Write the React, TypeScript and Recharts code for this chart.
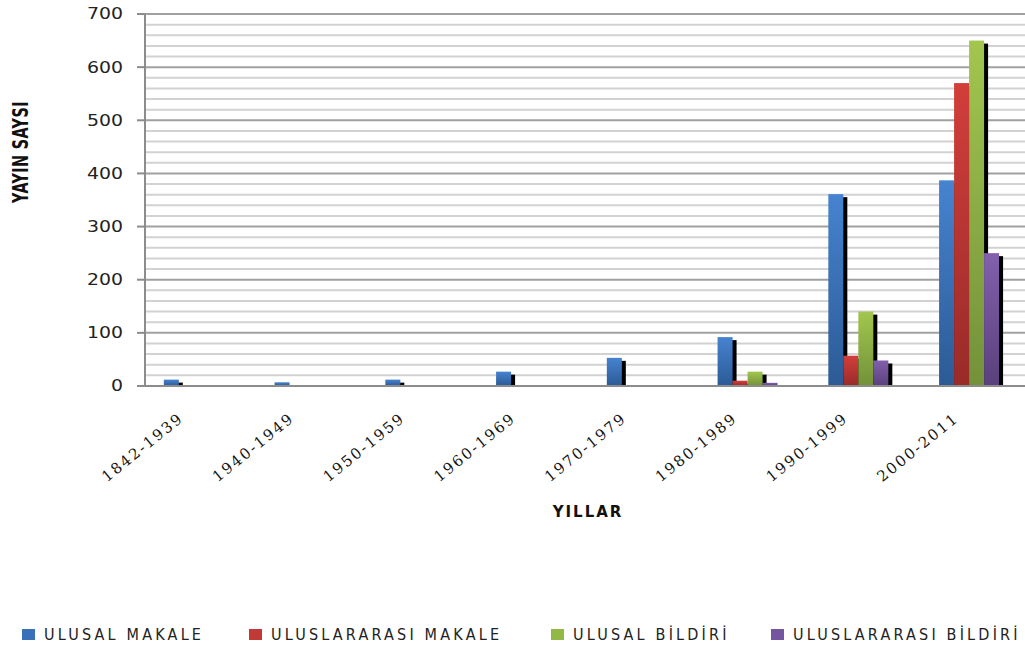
import React from 'react';
import {
  BarChart,
  Bar,
  XAxis,
  YAxis,
  CartesianGrid,
  Label,
} from 'recharts';

// categories (decades)
const categories = [
  '1842-1939',
  '1940-1949',
  '1950-1959',
  '1960-1969',
  '1970-1979',
  '1980-1989',
  '1990-1999',
  '2000-2011',
];

// series values
const ulusalMakale = [12, 7, 12, 27, 53, 92, 361, 387];
const uluslararasiMakale = [0, 0, 0, 0, 0, 10, 57, 570];
const ulusalBildiri = [0, 0, 0, 0, 0, 27, 140, 650];
const uluslararasiBildiri = [0, 0, 0, 0, 0, 6, 48, 250];
// the original chart keeps an empty fifth slot in each group
const bosSeri = [null, null, null, null, null, null, null, null];

const majorTicks = [0, 100, 200, 300, 400, 500, 600, 700];
const minorTicks = [
  0, 20, 40, 60, 80, 100, 120, 140, 160, 180, 200, 220, 240, 260, 280, 300,
  320, 340, 360, 380, 400, 420, 440, 460, 480, 500, 520, 540, 560, 580, 600,
  620, 640, 660, 680, 700,
];

const seriesNames = [
  'ULUSAL MAKALE',
  'ULUSLARARASI MAKALE',
  'ULUSAL BİLDİRİ',
  'ULUSLARARASI BİLDİRİ',
];

const data = categories.map((c, i) => ({
  name: c,
  ulusalMakale: ulusalMakale[i],
  uluslararasiMakale: uluslararasiMakale[i],
  ulusalBildiri: ulusalBildiri[i],
  uluslararasiBildiri: uluslararasiBildiri[i],
  bos: bosSeri[i],
}));

const gradients = [
  { id: 'gBlue', top: '#4683d0', bottom: '#2c5a95', legend: '#3a70b8' },
  { id: 'gRed', top: '#d23e3a', bottom: '#992b29', legend: '#c23a36' },
  { id: 'gGreen', top: '#a2c64e', bottom: '#73913a', legend: '#92b845' },
  { id: 'gPurple', top: '#8260ad', bottom: '#5a407c', legend: '#7455a0' },
];

const ShadowBar = (props: any) => {
  const { x, y, width, height, fill } = props;
  if (!height || height <= 0) return null;
  const sh = Math.max(height - 3, 0);
  return (
    <g>
      {sh > 0 && <rect x={x + 4} y={y + 3} width={width} height={sh} fill="#000" />}
      <rect x={x} y={y} width={width} height={height} fill={fill} />
    </g>
  );
};

const XTick = (props: any) => {
  const { x, y, payload } = props;
  return (
    <g transform={`translate(${x - 16},${y + 34})`}>
      <text
        transform="rotate(-39)"
        textAnchor="end"
        fontFamily="DejaVu Serif"
        fontSize={15}
        letterSpacing={2}
        fill="#111"
      >
        {payload.value}
      </text>
    </g>
  );
};

// y ticks come every 20 (for the grid); only the hundreds get a label and a mark
const YTick = (props: any) => {
  const { x, y, payload } = props;
  if (!majorTicks.includes(payload.value)) return <g />;
  return (
    <g>
      <line x1={x - 8} y1={y} x2={x} y2={y} stroke="#8c8c8c" strokeWidth={2} />
      <text
        transform={`translate(${x - 22},${y}) scale(1.26,1)`}
        textAnchor="end"
        dy="0.36em"
        fontFamily="DejaVu Sans"
        fontSize={15}
        fill="#222"
      >
        {payload.value}
      </text>
    </g>
  );
};

const GridLine = (props: any) => {
  const { x1, y1, x2, y2, index } = props;
  const isMajor = majorTicks.includes(minorTicks[index]);
  return (
    <line
      key={`gl-${index}-${y1}`}
      x1={x1}
      y1={y1}
      x2={x2}
      y2={y2}
      stroke={isMajor ? '#a0a0a0' : '#d2d2d2'}
      strokeWidth={2}
    />
  );
};

export default function App() {
  return (
    <div style={{ position: 'relative', width: 1025, height: 645, overflow: 'hidden', background: '#fff' }}>
      <style>{'body{margin:0;overflow:hidden}'}</style>
      <BarChart
        width={1040}
        height={645}
        data={data}
        margin={{ top: 14, right: 9, left: 0, bottom: 159 }}
        barCategoryGap="17%"
        barGap={0}
      >
        <defs>
          {gradients.map((g) => (
            <linearGradient key={g.id} id={g.id} x1="0" y1="0" x2="0" y2="1">
              <stop offset="0%" stopColor={g.top} />
              <stop offset="100%" stopColor={g.bottom} />
            </linearGradient>
          ))}
        </defs>
        <CartesianGrid vertical={false} horizontal={GridLine} />
        <YAxis
          domain={[0, 700]}
          ticks={minorTicks}
          interval={0}
          width={145}
          tickSize={0}
          tickMargin={0}
          tickLine={false}
          axisLine={{ stroke: '#8c8c8c', strokeWidth: 2 }}
          tick={<YTick />}
        >
          <Label
            content={() => (
              <text
                x={0}
                y={0}
                transform="translate(20,152) rotate(-90) scale(1,1.35)"
                textAnchor="middle"
                dy="0.36em"
                fontFamily="DejaVu Sans Condensed"
                fontWeight="bold"
                fontSize={16}
                letterSpacing={0.4}
                fill="#111"
              >
                YAYIN SAYSI
              </text>
            )}
          />
        </YAxis>
        <XAxis
          dataKey="name"
          height={100}
          tickSize={0}
          tickMargin={0}
          tickLine={false}
          interval={0}
          axisLine={{ stroke: '#8c8c8c', strokeWidth: 2 }}
          tick={<XTick />}
        >
          <Label
            content={() => (
              <text
                x={588}
                y={517}
                textAnchor="middle"
                fontFamily="DejaVu Sans"
                fontWeight="bold"
                fontSize={15}
                letterSpacing={2}
                fill="#111"
              >
                YILLAR
              </text>
            )}
          />
        </XAxis>
        <Bar dataKey="ulusalMakale" fill="url(#gBlue)" shape={<ShadowBar />} isAnimationActive={false} />
        <Bar dataKey="uluslararasiMakale" fill="url(#gRed)" shape={<ShadowBar />} isAnimationActive={false} />
        <Bar dataKey="ulusalBildiri" fill="url(#gGreen)" shape={<ShadowBar />} isAnimationActive={false} />
        <Bar dataKey="uluslararasiBildiri" fill="url(#gPurple)" shape={<ShadowBar />} isAnimationActive={false} />
        <Bar dataKey="bos" fill="#000" shape={<ShadowBar />} isAnimationActive={false} />
      </BarChart>
      <div style={{ position: 'absolute', left: 0, top: 624, width: 1025, height: 20 }}>
        {seriesNames.map((n, i) => {
          const lefts = [22, 249, 551, 771];
          return (
            <div
              key={n}
              style={{
                position: 'absolute',
                left: lefts[i],
                top: 0,
                display: 'flex',
                alignItems: 'center',
                whiteSpace: 'nowrap',
                fontFamily: 'DejaVu Sans Condensed',
                fontSize: 16,
                letterSpacing: 3.2,
                color: '#222',
                height: 20,
              }}
            >
              <span
                style={{
                  display: 'inline-block',
                  width: 13,
                  height: 11,
                  background: gradients[i].legend,
                  marginRight: 9,
                }}
              />
              {n}
            </div>
          );
        })}
      </div>
    </div>
  );
}
